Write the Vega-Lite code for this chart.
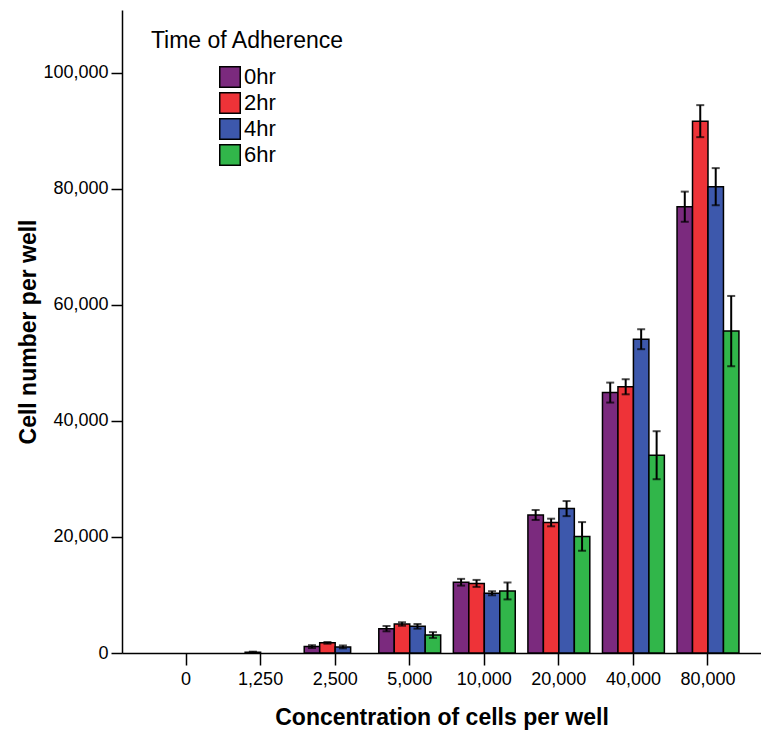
{
  "$schema": "https://vega.github.io/schema/vega-lite/v6.json",
  "width": 639,
  "height": 643,
  "autosize": "none",
  "padding": {"left": 122, "top": 10, "right": 0, "bottom": 82},
  "background": "white",
  "config": {
    "view": {"stroke": null},
    "font": "Liberation Sans",
    "axis": {"grid": false, "domainColor": "black", "tickColor": "black", "labelColor": "black", "titleColor": "black", "domainWidth": 1.5, "tickWidth": 1.5}
  },
  "data": {
    "values": [
      {"conc": "1,250", "time": "2hr", "value": 150, "err": 80},
      {"conc": "2,500", "time": "0hr", "value": 1100, "err": 250},
      {"conc": "2,500", "time": "2hr", "value": 1750, "err": 150},
      {"conc": "2,500", "time": "4hr", "value": 1050, "err": 250},
      {"conc": "5,000", "time": "0hr", "value": 4200, "err": 460},
      {"conc": "5,000", "time": "2hr", "value": 5000, "err": 300},
      {"conc": "5,000", "time": "4hr", "value": 4600, "err": 400},
      {"conc": "5,000", "time": "6hr", "value": 3100, "err": 500},
      {"conc": "10,000", "time": "0hr", "value": 12200, "err": 580},
      {"conc": "10,000", "time": "2hr", "value": 12000, "err": 600},
      {"conc": "10,000", "time": "4hr", "value": 10300, "err": 350},
      {"conc": "10,000", "time": "6hr", "value": 10700, "err": 1460},
      {"conc": "20,000", "time": "0hr", "value": 23800, "err": 860},
      {"conc": "20,000", "time": "2hr", "value": 22500, "err": 660},
      {"conc": "20,000", "time": "4hr", "value": 24900, "err": 1300},
      {"conc": "20,000", "time": "6hr", "value": 20100, "err": 2470},
      {"conc": "40,000", "time": "0hr", "value": 44900, "err": 1720},
      {"conc": "40,000", "time": "2hr", "value": 45900, "err": 1300},
      {"conc": "40,000", "time": "4hr", "value": 54100, "err": 1720},
      {"conc": "40,000", "time": "6hr", "value": 34100, "err": 4140},
      {"conc": "80,000", "time": "0hr", "value": 76950, "err": 2600},
      {"conc": "80,000", "time": "2hr", "value": 91700, "err": 2760},
      {"conc": "80,000", "time": "4hr", "value": 80400, "err": 3200},
      {"conc": "80,000", "time": "6hr", "value": 55500, "err": 6060}
    ]
  },
  "encoding": {
    "x": {
      "field": "conc", "type": "nominal",
      "scale": {"domain": ["0", "1,250", "2,500", "5,000", "10,000", "20,000", "40,000", "80,000"], "paddingInner": 0.17, "paddingOuter": 0.37, "align": 0.6},
      "axis": {"title": "Concentration of cells per well", "labelAngle": 0, "labelFontSize": 18, "labelPadding": 5, "tickSize": 12, "titleFontSize": 23, "titleFontWeight": "bold", "titlePadding": 18}
    },
    "xOffset": {"field": "time", "type": "nominal", "scale": {"domain": ["0hr", "2hr", "4hr", "6hr"]}},
    "y": {
      "field": "value", "type": "quantitative",
      "scale": {"domain": [0, 110862], "nice": false},
      "axis": {"title": "Cell number per well", "values": [0, 20000, 40000, 60000, 80000, 100000], "labelExpr": "format(datum.value, ',')", "labelFontSize": 18, "labelPadding": 3, "tickSize": 11, "titleFontSize": 23, "titleFontWeight": "bold", "titlePadding": 2}
    }
  },
  "layer": [
    {
      "mark": {"type": "bar", "stroke": "black", "strokeWidth": 1.5},
      "encoding": {
        "color": {
          "field": "time", "type": "nominal",
          "scale": {"domain": ["0hr", "2hr", "4hr", "6hr"], "range": ["#7B2A7E", "#EE3338", "#3D58AC", "#31B64A"]},
          "legend": {
            "title": "Time of Adherence", "orient": "none", "legendX": 28, "legendY": 20,
            "titleFontSize": 23, "titleFontWeight": "normal", "titleAnchor": "middle", "titlePadding": 13, "titleLimit": 400,
            "symbolType": "square", "symbolSize": 420, "symbolStrokeColor": "black", "symbolStrokeWidth": 1.5,
            "labelFontSize": 22, "labelOffset": 3, "rowPadding": -2
          }
        }
      }
    },
    {
      "mark": {"type": "errorbar", "ticks": {"size": 8, "thickness": 2, "color": "black"}, "rule": {"strokeWidth": 2, "color": "black"}},
      "encoding": {
        "yError": {"field": "err"}
      }
    }
  ]
}
